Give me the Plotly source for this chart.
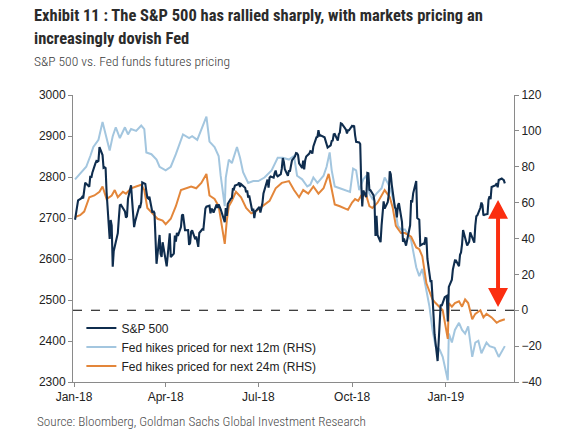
import plotly.graph_objects as go

# ---------------- data ----------------
sp_months = ["2018-01", "2018-02", "2018-03", "2018-04", "2018-05", "2018-06", "2018-07",
             "2018-08", "2018-09", "2018-10", "2018-11", "2018-12", "2019-01", "2019-02"]
sp_days = [
    [2, 3, 4, 5, 8, 9, 10, 11, 12, 16, 17, 18, 19, 22, 23, 24, 25, 26, 29, 30, 31],
    [1, 2, 5, 6, 7, 8, 9, 12, 13, 14, 15, 16, 20, 21, 22, 23, 26, 27, 28],
    [1, 2, 5, 6, 7, 8, 9, 12, 13, 14, 15, 16, 19, 20, 21, 22, 23, 26, 27, 28, 29],
    [2, 3, 4, 5, 6, 9, 10, 11, 12, 13, 16, 17, 18, 19, 20, 23, 24, 25, 26, 27, 30],
    [1, 2, 3, 4, 7, 8, 9, 10, 11, 14, 15, 16, 17, 18, 21, 22, 23, 24, 25, 29, 30, 31],
    [1, 4, 5, 6, 7, 8, 11, 12, 13, 14, 15, 18, 19, 20, 21, 22, 25, 26, 27, 28, 29],
    [2, 3, 5, 6, 9, 10, 11, 12, 13, 16, 17, 18, 19, 20, 23, 24, 25, 26, 27, 30, 31],
    [1, 2, 3, 6, 7, 8, 9, 10, 13, 14, 15, 16, 17, 20, 21, 22, 23, 24, 27, 28, 29, 30, 31],
    [4, 5, 6, 7, 10, 11, 12, 13, 14, 17, 18, 19, 20, 21, 24, 25, 26, 27, 28],
    [1, 2, 3, 4, 5, 8, 9, 10, 11, 12, 15, 16, 17, 18, 19, 22, 23, 24, 25, 26, 29, 30, 31],
    [1, 2, 5, 6, 7, 8, 9, 12, 13, 14, 15, 16, 19, 20, 21, 23, 26, 27, 28, 29, 30],
    [3, 4, 6, 7, 10, 11, 12, 13, 14, 17, 18, 19, 20, 21, 24, 26, 27, 28, 31],
    [2, 3, 4, 7, 8, 9, 10, 11, 14, 15, 16, 17, 18, 22, 23, 24, 25, 28, 29, 30, 31],
    [1, 4, 5, 6, 7, 8, 11, 12, 13, 14, 15, 19, 20, 21, 22, 25, 26, 27, 28],
]
sp_close = [
    [2695.8, 2713.1, 2724.0, 2743.2, 2747.7, 2751.3, 2748.2, 2767.6, 2786.2, 2776.4, 2802.6,
     2798.0, 2810.3, 2833.0, 2839.1, 2837.5, 2839.3, 2872.9, 2853.5, 2822.4, 2823.8],
    [2822.0, 2762.1, 2648.9, 2695.1, 2681.7, 2581.0, 2619.6, 2656.0, 2662.9, 2698.6, 2731.2,
     2732.2, 2716.3, 2701.3, 2704.0, 2747.3, 2779.6, 2744.3, 2713.8],
    [2677.7, 2691.3, 2720.9, 2728.1, 2726.8, 2739.0, 2786.6, 2783.0, 2765.3, 2749.5, 2747.3,
     2752.0, 2712.9, 2716.9, 2711.9, 2643.7, 2588.3, 2658.6, 2612.6, 2605.0, 2640.9],
    [2581.9, 2614.5, 2644.7, 2662.8, 2604.5, 2613.2, 2656.9, 2642.2, 2664.0, 2656.3, 2677.8,
     2706.4, 2708.6, 2693.1, 2670.1, 2670.3, 2634.6, 2639.4, 2666.9, 2669.9, 2648.1],
    [2654.8, 2635.7, 2629.7, 2663.4, 2672.6, 2671.9, 2697.8, 2723.1, 2727.7, 2730.1, 2711.5,
     2722.5, 2720.1, 2713.0, 2733.0, 2724.4, 2733.3, 2727.8, 2721.3, 2689.9, 2724.0, 2705.3],
    [2734.6, 2746.9, 2748.8, 2772.4, 2770.4, 2779.0, 2782.0, 2786.9, 2775.6, 2782.5, 2779.7,
     2773.8, 2762.6, 2767.3, 2749.8, 2754.9, 2717.1, 2723.1, 2699.6, 2716.3, 2718.4],
    [2726.7, 2713.2, 2736.6, 2759.8, 2784.2, 2793.8, 2774.0, 2798.3, 2801.3, 2798.4, 2809.6,
     2815.6, 2804.5, 2801.8, 2807.0, 2820.4, 2846.1, 2837.4, 2818.8, 2802.6, 2816.3],
    [2813.4, 2827.2, 2840.4, 2850.4, 2858.5, 2857.7, 2853.6, 2833.3, 2821.9, 2840.0, 2818.4,
     2840.7, 2850.1, 2857.1, 2863.0, 2861.8, 2857.0, 2874.7, 2896.7, 2897.5, 2914.0, 2901.1, 2901.5],
    [2896.7, 2888.6, 2878.1, 2871.7, 2877.1, 2887.9, 2888.9, 2904.2, 2905.0, 2888.8, 2904.3,
     2908.0, 2930.8, 2929.7, 2919.4, 2915.6, 2906.0, 2914.0, 2914.0],
    [2924.6, 2923.4, 2925.5, 2901.6, 2885.6, 2884.4, 2880.3, 2785.7, 2728.4, 2767.1, 2750.8,
     2809.9, 2809.2, 2768.8, 2767.8, 2755.9, 2740.7, 2656.1, 2705.6, 2658.7, 2641.3, 2682.6, 2711.7],
    [2740.4, 2723.1, 2738.3, 2755.5, 2813.9, 2806.8, 2781.0, 2726.2, 2722.2, 2701.6, 2730.2,
     2736.3, 2690.7, 2641.9, 2649.9, 2632.6, 2673.5, 2682.2, 2743.8, 2737.8, 2760.2],
    [2790.4, 2700.1, 2696.0, 2633.1, 2637.7, 2636.8, 2651.1, 2650.5, 2600.0, 2545.9, 2546.2,
     2507.0, 2467.4, 2416.6, 2351.1, 2467.7, 2488.8, 2485.7, 2506.9],
    [2510.0, 2447.9, 2531.9, 2549.7, 2574.4, 2585.0, 2596.6, 2596.3, 2582.6, 2610.3, 2616.1,
     2636.0, 2670.7, 2632.9, 2638.7, 2642.3, 2664.8, 2643.9, 2640.0, 2681.1, 2704.1],
    [2706.5, 2724.9, 2737.7, 2731.6, 2706.1, 2707.9, 2709.8, 2744.7, 2753.0, 2745.7, 2775.6,
     2779.8, 2784.7, 2774.9, 2792.7, 2796.1, 2793.9, 2792.4, 2784.5],
]

fed12_dates = [
    "2018-01-02", "2018-01-07", "2018-01-13", "2018-01-17", "2018-01-20", "2018-01-25", "2018-01-29",
    "2018-02-05", "2018-02-08", "2018-02-11", "2018-02-15", "2018-02-20", "2018-02-23", "2018-02-26",
    "2018-03-03", "2018-03-08", "2018-03-11", "2018-03-13", "2018-03-18", "2018-03-23", "2018-03-26",
    "2018-04-01", "2018-04-06", "2018-04-11", "2018-04-18", "2018-04-24", "2018-04-27",
    "2018-05-02", "2018-05-07", "2018-05-11", "2018-05-14", "2018-05-19", "2018-05-23", "2018-05-25",
    "2018-05-29", "2018-05-30", "2018-06-02", "2018-06-05", "2018-06-10", "2018-06-13", "2018-06-16",
    "2018-06-21", "2018-06-26", "2018-07-01", "2018-07-07", "2018-07-14", "2018-07-20", "2018-07-25",
    "2018-07-31", "2018-08-05", "2018-08-08", "2018-08-13", "2018-08-18", "2018-08-21", "2018-08-24",
    "2018-08-28", "2018-08-31", "2018-09-03", "2018-09-06", "2018-09-09", "2018-09-11", "2018-09-14",
    "2018-09-19", "2018-09-24", "2018-09-29", "2018-10-02", "2018-10-05", "2018-10-08", "2018-10-12",
    "2018-10-15", "2018-10-18", "2018-10-21", "2018-10-25", "2018-10-30", "2018-11-02", "2018-11-05",
    "2018-11-08", "2018-11-12", "2018-11-15", "2018-11-18", "2018-11-22", "2018-11-28", "2018-12-03",
    "2018-12-06", "2018-12-09", "2018-12-13", "2018-12-16", "2018-12-19", "2018-12-22", "2018-12-26",
    "2018-12-29", "2019-01-03", "2019-01-04", "2019-01-07", "2019-01-10", "2019-01-14", "2019-01-17",
    "2019-01-20", "2019-01-23", "2019-01-27", "2019-01-30", "2019-02-02", "2019-02-05", "2019-02-10",
    "2019-02-13", "2019-02-18", "2019-02-22", "2019-02-28",
]
fed12_values = [
    73, 76, 80, 86, 91, 95, 105,
    89, 97, 102, 96, 102, 98, 101,
    100, 103, 101, 88, 87, 84, 80,
    78, 80, 87, 98, 96, 97,
    95, 102, 108, 94, 91, 86, 75,
    58, 74, 84, 82, 91, 85, 77,
    71, 72, 72, 74, 78, 85, 85,
    84, 86, 75, 73, 69, 70, 74,
    71, 73, 75, 80, 88, 78, 69,
    68, 67, 66, 79, 78, 67, 73,
    75, 65, 62, 65, 68, 74, 71,
    67, 58, 47, 45, 45, 39, 24,
    19, 23, 11, 2, -11, -20, -22,
    -26, -39, -13, -18, -11, -7, -11,
    -13, -9, -26, -18, -17, -24, -18,
    -20, -21, -26, -20,
]

fed24_dates = [
    "2018-01-02", "2018-01-07", "2018-01-11", "2018-01-16", "2018-01-21", "2018-01-26", "2018-01-29",
    "2018-02-02", "2018-02-07", "2018-02-10", "2018-02-13", "2018-02-18", "2018-02-21", "2018-02-26",
    "2018-03-03", "2018-03-08", "2018-03-11", "2018-03-14", "2018-03-19", "2018-03-24", "2018-03-29",
    "2018-04-01", "2018-04-06", "2018-04-11", "2018-04-16", "2018-04-21", "2018-04-26",
    "2018-05-01", "2018-05-06", "2018-05-11", "2018-05-14", "2018-05-19", "2018-05-23", "2018-05-29",
    "2018-05-31", "2018-06-02", "2018-06-05", "2018-06-09", "2018-06-14", "2018-06-19", "2018-06-24",
    "2018-06-28", "2018-07-05", "2018-07-12", "2018-07-18", "2018-07-24", "2018-07-31",
    "2018-08-05", "2018-08-10", "2018-08-14", "2018-08-19", "2018-08-24", "2018-08-29",
    "2018-09-03", "2018-09-08", "2018-09-11", "2018-09-14", "2018-09-19", "2018-09-24", "2018-09-27",
    "2018-10-01", "2018-10-04", "2018-10-07", "2018-10-10", "2018-10-15", "2018-10-18", "2018-10-21",
    "2018-10-26", "2018-11-02", "2018-11-07", "2018-11-10", "2018-11-13", "2018-11-18", "2018-11-22",
    "2018-11-28", "2018-12-03", "2018-12-06", "2018-12-09", "2018-12-13", "2018-12-16", "2018-12-19",
    "2018-12-22", "2018-12-26", "2018-12-29", "2019-01-03", "2019-01-04", "2019-01-07", "2019-01-10",
    "2019-01-14", "2019-01-17", "2019-01-20", "2019-01-23", "2019-01-27", "2019-01-30", "2019-02-04",
    "2019-02-07", "2019-02-10", "2019-02-15", "2019-02-20", "2019-02-23", "2019-02-28",
]
fed24_values = [
    52, 53, 55, 63, 64, 66, 69,
    62, 64, 67, 63, 66, 65, 68,
    69, 70, 67, 57, 54, 51, 50,
    48, 51, 58, 67, 68, 69,
    68, 71, 76, 64, 62, 58, 37,
    50, 58, 61, 66, 63, 57, 54,
    55, 58, 61, 68, 71, 72,
    67, 63, 67, 65, 69, 65,
    68, 76, 67, 59, 58, 57, 56,
    60, 62, 61, 64, 64, 58, 57,
    60, 67, 63, 57, 47, 43, 43,
    41, 35, 34, 30, 15, 11, 6,
    4, 2, 0, -16, 4, 2, 4,
    5, 2, 6, 4, -5, -2, 0,
    -4, -2, -4, -7, -6, -5,
]

x_ticks = ["2018-01-01", "2018-04-01", "2018-07-01", "2018-10-01", "2019-01-01"]
x_tick_labels = ["Jan-18", "Apr-18", "Jul-18", "Oct-18", "Jan-19"]

series_names = ["S&P 500", "Fed hikes priced for next 12m (RHS)", "Fed hikes priced for next 24m (RHS)"]

# ---------------- build ----------------
sp_dates, sp_vals = [], []
for m, days, vals in zip(sp_months, sp_days, sp_close):
    assert len(days) == len(vals), m
    for d, v in zip(days, vals):
        sp_dates.append(f"{m}-{d:02d}")
        sp_vals.append(v)
assert len(fed12_dates) == len(fed12_values)
assert len(fed24_dates) == len(fed24_values)

NAVY = "#0f2d4e"
LIGHT = "#a3c6df"
ORANGE = "#e3863a"
RED = "#fb2e10"
AXIS = "#8a8a8a"
TICKFONT = dict(family="Liberation Sans, Arial, sans-serif", size=12, color="#222222")

fig = go.Figure()
fig.add_trace(go.Scatter(x=sp_dates, y=sp_vals, name=series_names[0], yaxis="y2",
                         mode="lines", line=dict(color=NAVY, width=2.1)))
fig.add_trace(go.Scatter(x=fed12_dates, y=fed12_values, name=series_names[1], yaxis="y",
                         mode="lines", line=dict(color=LIGHT, width=2)))
fig.add_trace(go.Scatter(x=fed24_dates, y=fed24_values, name=series_names[2], yaxis="y",
                         mode="lines", line=dict(color=ORANGE, width=2)))

# zero line for RHS
fig.add_shape(type="line", xref="paper", yref="y", x0=0, x1=1, y0=0, y1=0,
              line=dict(color="black", width=1, dash="dash"), layer="below")

# red double-headed arrow (annotation graphic)
arrow_x = 0.9638
arrow_half = 0.0226
arrow_top, arrow_top_base = 61.5, 51.0
arrow_bot, arrow_bot_base = 1.8, 12.4
shaft_half = 0.0045
fig.add_shape(type="path", xref="paper", yref="y", fillcolor=RED, line=dict(width=0),
              path=(f"M {arrow_x} {arrow_top} L {arrow_x + arrow_half} {arrow_top_base} "
                    f"L {arrow_x + shaft_half} {arrow_top_base} L {arrow_x + shaft_half} {arrow_bot_base} "
                    f"L {arrow_x + arrow_half} {arrow_bot_base} L {arrow_x} {arrow_bot} "
                    f"L {arrow_x - arrow_half} {arrow_bot_base} L {arrow_x - shaft_half} {arrow_bot_base} "
                    f"L {arrow_x - shaft_half} {arrow_top_base} L {arrow_x - arrow_half} {arrow_top_base} Z"))

TITLE_FONT = "Liberation Sans Narrow, Arial Narrow, Roboto Condensed, Roboto, sans-serif"
texts = [
    ("Exhibit 11 : The S&P 500 has rallied sharply, with markets pricing an", 15, True, 16.5, "#2b2b2b", 32),
    ("increasingly dovish Fed", 38, True, 16.5, "#2b2b2b", 32),
    ("S&P 500 vs. Fed funds futures pricing", 61, False, 13.5, "#3a3a3a", 32),
    ("Source: Bloomberg, Goldman Sachs Global Investment Research", 421, False, 13.2, "#4a4a4a", 35),
]
L, T, W, H = 73, 95, 441, 287
for txt, ypx, bold, size, col, xpx in texts:
    fig.add_annotation(text=f"<b>{txt}</b>" if bold else txt, xref="paper", yref="paper",
                       x=(xpx - L) / W, y=(T + H - ypx) / H, xanchor="left", yanchor="middle",
                       showarrow=False,
                       font=dict(family=TITLE_FONT, size=size, color=col,
                                 weight=700 if bold else 300))

fig.update_layout(
    width=566, height=433,
    margin=dict(l=L, r=566 - L - W, t=T, b=433 - T - H),
    paper_bgcolor="white", plot_bgcolor="white",
    showlegend=True,
    legend=dict(x=0.019, y=0.005, xanchor="left", yanchor="bottom", bgcolor="rgba(0,0,0,0)",
                font=dict(family="Liberation Sans, Arial, sans-serif", size=12, color="#222222"),
                tracegroupgap=0, itemwidth=30),
    xaxis=dict(type="date", range=["2017-12-31", "2019-03-09"], tickvals=x_ticks, ticktext=x_tick_labels,
               showgrid=False, zeroline=False, showline=True, linecolor=AXIS, linewidth=1,
               ticks="outside", ticklen=4, tickcolor=AXIS, tickfont=TICKFONT),
    yaxis=dict(range=[-40, 120], dtick=20, tick0=0, side="right", showgrid=False, zeroline=False,
               showline=True, linecolor=AXIS, linewidth=1, ticks="outside", ticklen=4,
               tickcolor=AXIS, tickfont=TICKFONT),
    yaxis2=dict(range=[2300, 3000], dtick=100, tick0=2300, side="left", overlaying="y",
                showgrid=False, zeroline=False, showline=True, linecolor=AXIS, linewidth=1,
                ticks="outside", ticklen=4, tickcolor=AXIS, tickfont=TICKFONT),
)

fig.write_html("out.html", config={"displayModeBar": False},
               post_script="document.body.style.margin='0';document.body.style.padding='0';")
